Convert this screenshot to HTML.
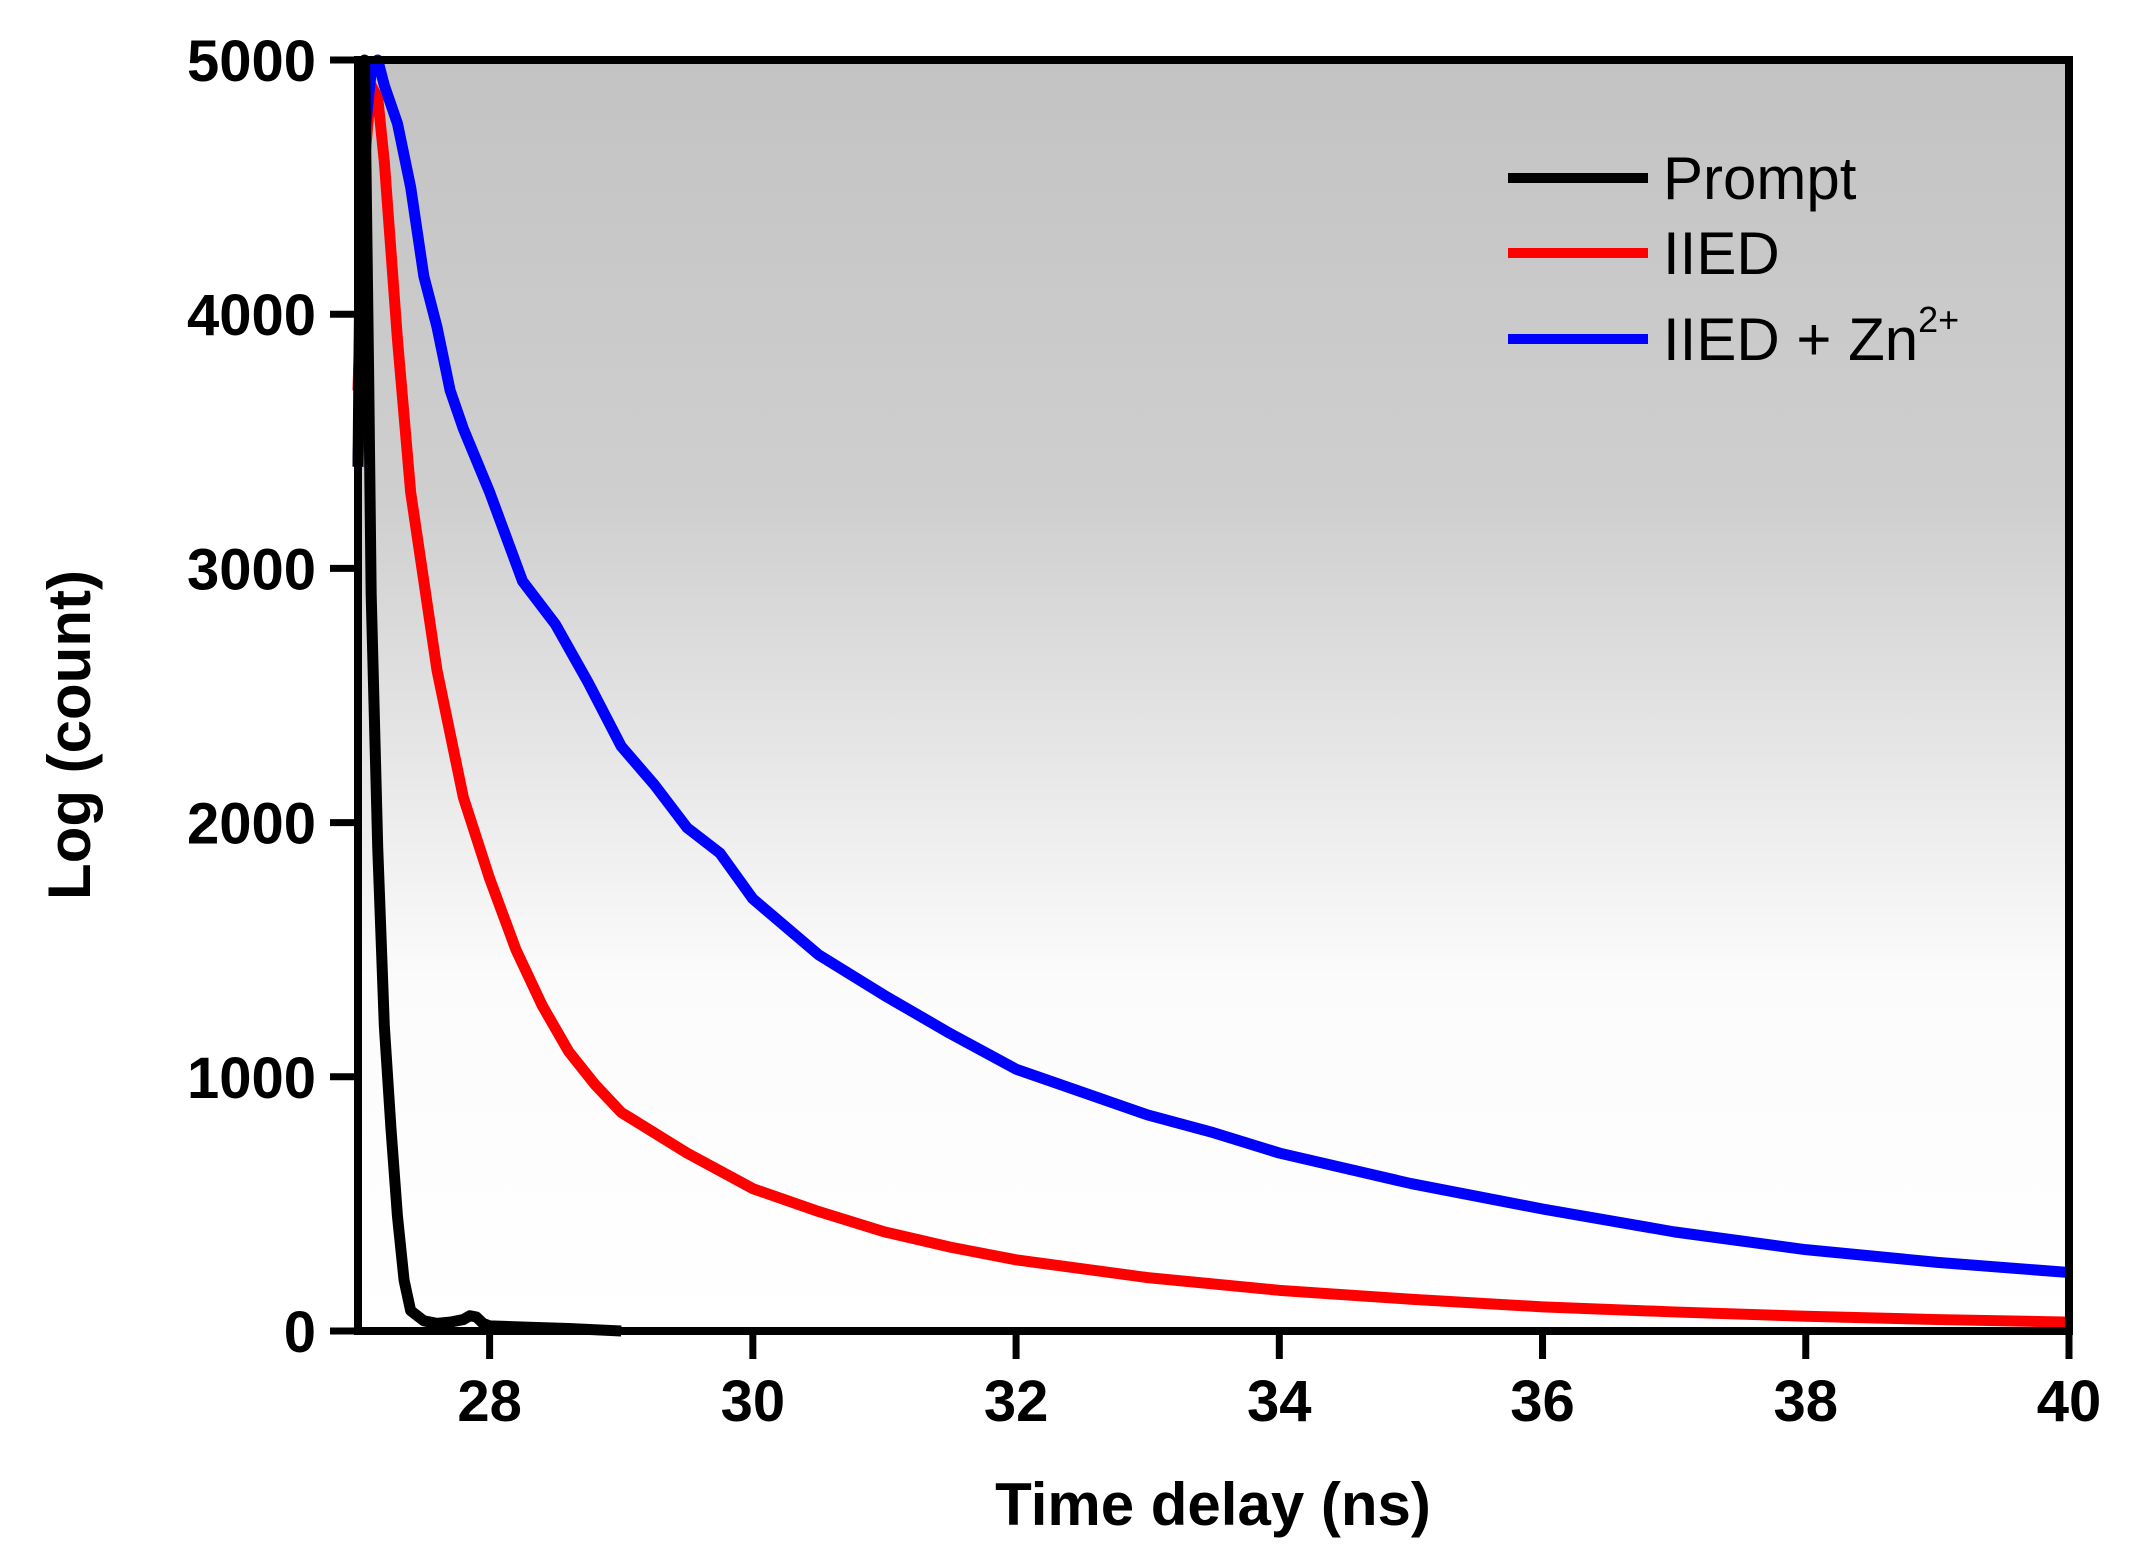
<!DOCTYPE html>
<html><head><meta charset="utf-8"><style>
html,body{margin:0;padding:0;background:#fff;}
svg{display:block;font-family:"Liberation Sans",Arial,sans-serif;}
</style></head><body>
<svg id="chart" width="2133" height="1567" viewBox="0 0 2133 1567">
<defs>
<linearGradient id="bg" x1="0" y1="0" x2="0" y2="1">
<stop offset="0" stop-color="#c3c3c3"/>
<stop offset="0.35" stop-color="#cfcfcf"/>
<stop offset="0.72" stop-color="#fbfbfb"/>
<stop offset="1" stop-color="#ffffff"/>
</linearGradient>
</defs>
<rect x="358" y="60" width="1711" height="1271" fill="url(#bg)"/>
<g id="series"></g>
<rect x="358" y="60" width="1711" height="1271" fill="none" stroke="#000" stroke-width="8"/>
<g id="axes"></g>
<text x="90" y="735" transform="rotate(-90 90 735)" text-anchor="middle" font-size="60" font-weight="bold">Log (count)</text>
<text x="1213" y="1525" text-anchor="middle" font-size="60" font-weight="bold">Time delay (ns)</text>
<g>
<line x1="1508" y1="178" x2="1648" y2="178" stroke="#000" stroke-width="10"/>
<text x="1663" y="199" font-size="60">Prompt</text>
<line x1="1508" y1="253" x2="1648" y2="253" stroke="#f00" stroke-width="10"/>
<text x="1663" y="274" font-size="60">IIED</text>
<line x1="1508" y1="339" x2="1648" y2="339" stroke="#00f" stroke-width="10"/>
<text x="1663" y="360" font-size="60">IIED + Zn<tspan dy="-28" font-size="36">2+</tspan></text>
</g>
</svg>
<script>
const xTicks=[28,30,32,34,36,38,40];
const yTicks=[0,1000,2000,3000,4000,5000];
const promptT=[27.0,27.02,27.05,27.08,27.1,27.15,27.2,27.25,27.3,27.35,27.4,27.5,27.6,27.7,27.8,27.85,27.9,27.95,28.0,28.3,28.6,29.0];
const promptV=[3400,4500,5000,3800,2900,1900,1200,800,450,200,80,40,30,35,45,60,55,30,20,15,10,0];
const iiedT=[27.0,27.05,27.1,27.15,27.2,27.3,27.4,27.5,27.6,27.7,27.8,28.0,28.2,28.4,28.6,28.8,29.0,29.5,30.0,30.5,31.0,31.5,32.0,33.0,34.0,35.0,36.0,37.0,38.0,39.0,40.0];
const iiedV=[3700,4600,4900,4850,4600,3900,3300,2950,2600,2350,2100,1780,1500,1280,1100,970,860,700,560,470,390,330,280,210,160,125,95,75,58,45,35];
const znT=[27.0,27.05,27.1,27.15,27.2,27.3,27.4,27.5,27.6,27.7,27.8,28.0,28.25,28.5,28.75,29.0,29.25,29.5,29.75,30.0,30.5,31.0,31.5,32.0,32.5,33.0,33.5,34.0,35.0,36.0,37.0,38.0,39.0,40.0];
const znV=[3400,4700,4950,5000,4900,4750,4500,4150,3950,3700,3550,3300,2950,2780,2550,2300,2150,1980,1880,1700,1480,1320,1170,1030,940,850,780,700,580,480,390,320,270,230];
const L=358,R=2069,T=60,B=1331;
const sx=v=>L+(v-27)/(40-27)*(R-L);
const sy=v=>B-v/5000*(B-T);
const NS='http://www.w3.org/2000/svg';
const axes=document.getElementById('axes');
const series=document.getElementById('series');
xTicks.forEach(t=>{
 const l=document.createElementNS(NS,'line');
 l.setAttribute('x1',sx(t));l.setAttribute('x2',sx(t));l.setAttribute('y1',B);l.setAttribute('y2',B+28);
 l.setAttribute('stroke','#000');l.setAttribute('stroke-width','7');
 
 
 axes.appendChild(l);
 const tx=document.createElementNS(NS,'text');
 tx.setAttribute('x',sx(t));tx.setAttribute('y',B+90);tx.setAttribute('text-anchor','middle');
 tx.setAttribute('font-size','58');tx.setAttribute('font-weight','bold');tx.textContent=t;
 
 
 axes.appendChild(tx);
});
yTicks.forEach(t=>{
 const l=document.createElementNS(NS,'line');
 l.setAttribute('x1',L-28);l.setAttribute('x2',L);l.setAttribute('y1',sy(t));l.setAttribute('y2',sy(t));
 l.setAttribute('stroke','#000');l.setAttribute('stroke-width','7');
 
 
 axes.appendChild(l);
 const tx=document.createElementNS(NS,'text');
 tx.setAttribute('x',L-42);tx.setAttribute('y',sy(t)+21);tx.setAttribute('text-anchor','end');
 tx.setAttribute('font-size','58');tx.setAttribute('font-weight','bold');tx.textContent=t;
 
 
 axes.appendChild(tx);
});
function draw(ts,vs,color,name){
 const p=document.createElementNS(NS,'polyline');
 p.setAttribute('points',ts.map((t,i)=>sx(t)+','+sy(vs[i])).join(' '));
 p.setAttribute('fill','none');p.setAttribute('stroke',color);p.setAttribute('stroke-width','11');
 p.setAttribute('stroke-linejoin','round');
 
 
 series.appendChild(p);
}
draw(iiedT,iiedV,'#ff0000','iied-line');
draw(znT,znV,'#0000ff','iied-zn-line');
draw(promptT,promptV,'#000000','prompt-line');
</script>
</body></html>
